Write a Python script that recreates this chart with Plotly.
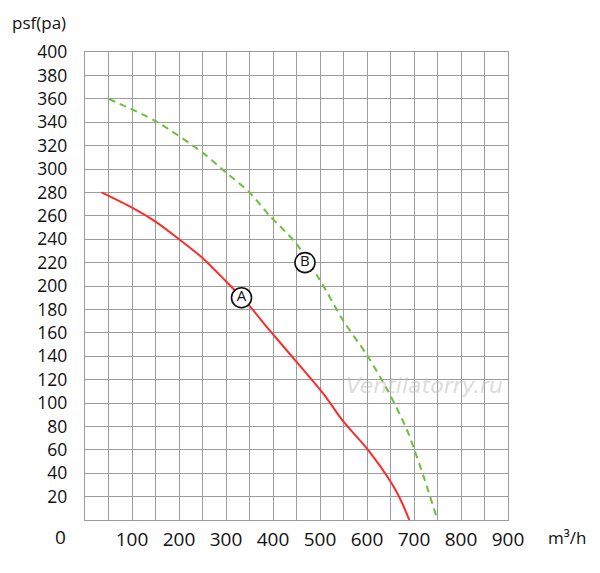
import plotly.graph_objects as go

# ---------------------------------------------------------
# data
# ---------------------------------------------------------
flow_a = [35, 100, 150, 200, 250, 300, 350, 393, 457, 507, 550, 600, 653, 673, 690]
press_a = [280, 267, 255, 240, 224, 204, 183, 162, 132, 108, 84, 61, 31, 16, 0]

flow_b = [50, 150, 250, 300, 350, 393, 450, 500, 550, 600, 645, 684, 700, 723, 750]
press_b = [360, 341, 314, 297, 280, 260, 236, 205, 170, 141, 110, 78, 61, 34, 0]

curve_names = ['A', 'B']
label_x = [333, 468]
label_y = [190, 220]

x_ticks = [100, 200, 300, 400, 500, 600, 700, 800, 900]
y_ticks = [20, 40, 60, 80, 100, 120, 140, 160, 180, 200,
           220, 240, 260, 280, 300, 320, 340, 360, 380, 400]

grid = '#9c9c9c'
font_main = 'Open Sans'

# page body adds an 8px offset, plot box in figure pixels
OFF = 8
L, R, T, B = 85 - OFF, 508 - OFF, 51.7 - OFF, 519.7 - OFF


def px(xp, yp):
    # reference pixel -> paper coords
    return (xp - OFF - L) / (R - L), (B - (yp - OFF)) / (B - T)


fig = go.Figure()

fig.add_trace(go.Scatter(
    x=flow_a, y=press_a, mode='lines',
    line=dict(color='#ff2b2b', width=2, shape='spline', smoothing=0.8),
    hoverinfo='skip'
))
fig.add_trace(go.Scatter(
    x=flow_b, y=press_b, mode='lines',
    line=dict(color='#6cbf3a', width=2, dash='7px,5px', shape='spline', smoothing=0.8),
    hoverinfo='skip'
))

# circled curve labels
fig.add_trace(go.Scatter(
    x=label_x, y=label_y, mode='markers+text',
    text=curve_names, textposition='middle center',
    textfont=dict(family=font_main, size=15, color='#111111'),
    marker=dict(size=20, color='white', line=dict(color='#111111', width=1.6)),
    hoverinfo='skip'
))

# watermark
fig.add_annotation(
    x=723, y=115, xref='x', yref='y', text='<i>Ventilatorry.ru</i>',
    showarrow=False,
    font=dict(family='DejaVu Sans', size=22, color='rgba(190,190,190,0.55)')
)

# axis titles and the lone origin label
ax, ay = px(10, 22)
fig.add_annotation(x=ax, y=ay, xref='paper', yref='paper', text='psf(pa)',
                   showarrow=False, xanchor='left', yanchor='middle',
                   font=dict(family=font_main, size=17, color='#111111'))
ax, ay = px(60, 537)
fig.add_annotation(x=ax, y=ay, xref='paper', yref='paper', text='0',
                   showarrow=False, xanchor='center', yanchor='middle',
                   font=dict(family=font_main, size=19, color='#111111'))
ax, ay = px(567, 537)
fig.add_annotation(x=ax, y=ay, xref='paper', yref='paper', text='m³/h',
                   showarrow=False, xanchor='center', yanchor='middle',
                   font=dict(family=font_main, size=17, color='#111111'))

fig.update_layout(
    width=600, height=573,
    margin=dict(l=L, r=600 - R, t=T, b=573 - B, pad=0),
    paper_bgcolor='white', plot_bgcolor='white',
    showlegend=False,
    font=dict(family=font_main, size=19, color='#111111')
)

fig.update_xaxes(
    range=[0, 900], tickvals=x_ticks, ticklabelstandoff=2,
    showgrid=True, gridcolor=grid, gridwidth=1.3,
    minor=dict(dtick=50, showgrid=True, gridcolor=grid, gridwidth=1.3),
    showline=True, linecolor=grid, linewidth=1.3, mirror=True,
    zeroline=False, ticks='', automargin=False
)
fig.update_yaxes(
    range=[0, 400], tickvals=y_ticks, ticklabelstandoff=13,
    tickfont=dict(size=17.5),
    showgrid=True, gridcolor=grid, gridwidth=1.3,
    showline=True, linecolor=grid, linewidth=1.3, mirror=True,
    zeroline=False, ticks='', automargin=False
)

fig.write_html("out.html")
